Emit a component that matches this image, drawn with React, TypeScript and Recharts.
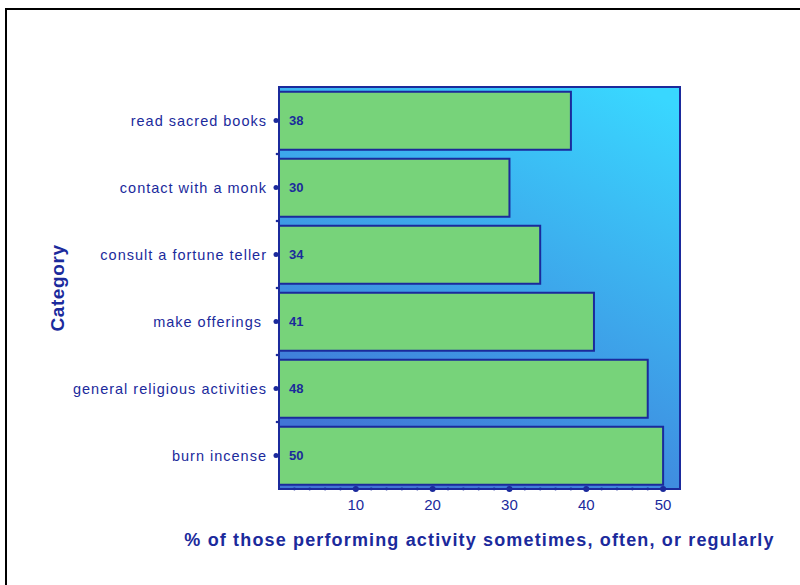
import { BarChart, Bar, XAxis, YAxis, ReferenceArea, LabelList, CartesianGrid } from 'recharts';

const categories = [
  'read sacred books',
  'contact with a monk',
  'consult a fortune teller',
  'make offerings ',
  'general religious activities',
  'burn incense',
];
const percents = [38, 30, 34, 41, 48, 50];
const xTicks = [2, 4, 6, 8, 10, 12, 14, 16, 18, 20, 22, 24, 26, 28, 30, 32, 34, 36, 38, 40, 42, 44, 46, 48, 50];

const data = categories.map((name, i) => ({ name, value: percents[i] }));

const INK = '#1b2a9c';
const FONT = '"Liberation Sans", Arial, sans-serif';
const PLOT_H = 402;

const CategoryTick = (props: any) => {
  const { x, y, payload, index } = props;
  const half = PLOT_H / categories.length / 2;
  return (
    <g>
      <circle cx={x - 3} cy={y} r={2.5} fill={INK} />
      {index > 0 && <circle cx={x - 2} cy={y - half} r={1.3} fill={INK} />}
      <text
        x={x - 12}
        y={y}
        dy="0.35em"
        textAnchor="end"
        fontSize={14.5}
        fontFamily={FONT}
        fill={INK}
        style={{ whiteSpace: 'pre', letterSpacing: '1px' }}
      >
        {payload.value}
      </text>
    </g>
  );
};

const ValueTick = (props: any) => {
  const { x, y, payload } = props;
  const major = payload.value % 10 === 0;
  return (
    <g>
      <circle cx={x} cy={y} r={major ? 3 : 1.4} fill={INK} />
      {major && (
        <text x={x} y={y + 10} dy="0.71em" textAnchor="middle" fontSize={15} fontFamily={FONT} fill={INK}>
          {payload.value}
        </text>
      )}
    </g>
  );
};

const CategoryLabel = (props: any) => {
  const { viewBox } = props;
  const cx = viewBox.x + 17;
  const cy = viewBox.y + viewBox.height / 2;
  return (
    <text
      x={cx}
      y={cy}
      transform={`rotate(-90 ${cx} ${cy})`}
      textAnchor="middle"
      dy="0.35em"
      fontSize={19}
      fontWeight="bold"
      fontFamily={FONT}
      fill={INK}
      style={{ letterSpacing: '0.6px' }}
    >
      Category
    </text>
  );
};

export default function App() {
  return (
    <div style={{ position: 'fixed', left: 0, top: 0, width: 800, height: 585, background: '#fff', overflow: 'hidden' }}>
      <div
        style={{
          position: 'absolute',
          left: 5,
          top: 8,
          width: 820,
          height: 600,
          borderTop: '2px solid #000',
          borderLeft: '2px solid #000',
        }}
      />
      <div style={{ position: 'absolute', left: 0, top: 0 }}>
        <BarChart
          width={800}
          height={585}
          data={data}
          layout="vertical"
          margin={{ top: 87, right: 120, bottom: 66, left: 40 }}
          barCategoryGap="7%"
        >
          <defs>
            <linearGradient id="plotBg" x1="0.9" y1="0" x2="0.4" y2="1">
              <stop offset="0%" stopColor="#39d7ff" />
              <stop offset="100%" stopColor="#4175d6" />
            </linearGradient>
          </defs>
          <CartesianGrid horizontal={false} vertical={false} fill="url(#plotBg)" fillOpacity={1} />
          <XAxis
            type="number"
            domain={[0, 52.2]}
            ticks={xTicks}
            interval={0}
            height={30}
            tickSize={0}
            tickMargin={0}
            axisLine={{ stroke: INK, strokeWidth: 2 }}
            tick={<ValueTick />}
            label={{
              value: '% of those performing activity sometimes, often, or regularly',
              position: 'bottom',
              offset: 14,
              style: { fontSize: 18, fontWeight: 'bold', fill: INK, fontFamily: FONT, letterSpacing: '1.15px' },
            }}
          />
          <YAxis
            type="category"
            dataKey="name"
            width={239}
            tickSize={0}
            tickMargin={0}
            interval={0}
            axisLine={{ stroke: INK, strokeWidth: 2 }}
            tick={<CategoryTick />}
            label={<CategoryLabel />}
          />
          <Bar dataKey="value" fill="#77d37a" stroke={INK} strokeWidth={2} isAnimationActive={false}>
            <LabelList
              dataKey="value"
              position="insideLeft"
              offset={10}
              fill={INK}
              fontSize={13}
              fontWeight="bold"
              fontFamily={FONT}
            />
          </Bar>
          <ReferenceArea x1={0} x2={52.2} fill="none" stroke={INK} strokeWidth={2} ifOverflow="visible" />
        </BarChart>
      </div>
    </div>
  );
}
